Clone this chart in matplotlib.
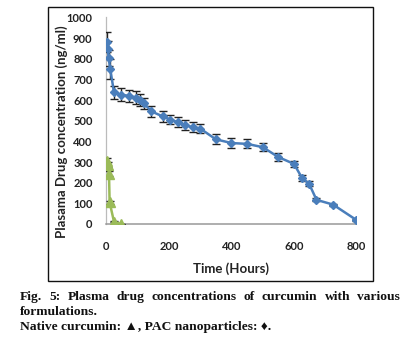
import matplotlib
matplotlib.use("Agg")
import matplotlib.pyplot as plt
from matplotlib.patches import Rectangle

# PAC nanoparticles (diamonds)
pac_time = [2, 4, 7, 12, 24, 48, 72, 96, 108, 120, 144, 180, 204, 228, 252, 276, 300,
            350, 400, 450, 500, 550, 600, 626, 648, 672, 725, 800]
pac_conc = [882, 848, 804, 751, 637, 626, 620, 612, 600, 584, 545, 521, 506, 493, 478, 469, 462,
            410, 392, 388, 372, 324, 291, 222, 196, 117, 94, 19]
pac_err = [50, 40, 40, 48, 32, 32, 30, 30, 30, 28, 26, 25, 24, 24, 24, 24, 22,
           24, 24, 22, 20, 20, 16, 16, 12, 8, 5, 3]

# Native curcumin (triangles)
nat_time = [2, 5, 8, 10, 24, 46]
nat_conc = [306, 286, 243, 105, 11, 0]
nat_err = [15, 12, 12, 8, 3, 2]

x_ticks = [0, 200, 400, 600, 800]
y_ticks = list(range(0, 1001, 100))

W, H = 410, 339
fig = plt.figure(figsize=(W / 100, H / 100), dpi=100)

ax = fig.add_axes([106.5 / W, 1 - 224 / H, 250 / W, 206.5 / H])

blue = "#4A7EBB"
green = "#9BBB59"

ax.errorbar(pac_time, pac_conc, yerr=pac_err, color=blue, lw=1.8, marker="D", ms=4.5,
            ecolor="#222222", elinewidth=1.0, capsize=3, capthick=1.0, zorder=3)
ax.errorbar(nat_time, nat_conc, yerr=nat_err, color=green, lw=1.8, marker="^", ms=6.5,
            ecolor="#222222", elinewidth=1.0, capsize=3, capthick=1.0, zorder=3)

ax.set_xlim(0, 800)
ax.set_ylim(0, 1000)
ax.set_xticks(x_ticks)
ax.set_yticks(y_ticks)
ax.tick_params(length=0, labelsize=8, pad=10)
for lab in ax.get_xticklabels() + ax.get_yticklabels():
    lab.set_fontweight("bold")
    lab.set_family("Lato")
    lab.set_color("#222222")
ax.tick_params(axis="x", pad=12)

for s in ["top", "right"]:
    ax.spines[s].set_visible(False)
ax.spines["left"].set_color("#BBBBBB")
ax.spines["bottom"].set_color("#999999")
ax.spines["left"].set_linewidth(0.9)
ax.spines["bottom"].set_linewidth(1.1)

fig.text(62 / W, 1 - 132 / H, "Plasama Drug concentration (ng/ml)", rotation=90,
         ha="center", va="center", fontsize=9.5, fontweight="bold", family="Lato",
         color="#222222")
fig.text(231 / W, 1 - 269 / H, "Time (Hours)", ha="center", va="center",
         fontsize=9.5, fontweight="bold", family="Lato", color="#222222")

# frame around the chart
fig.patches.append(Rectangle((47.7 / W, 1 - 281 / H), (373 - 47.7) / W, (281 - 7) / H,
                             transform=fig.transFigure, fill=False, ec="#111111", lw=1.0))

# caption, first line justified across the width
cap_font = dict(fontsize=9.7, fontweight="bold", color="#111111")
serif = ["Liberation Serif", "DejaVu Serif"]
words = "Fig. 5: Plasma drug concentrations of curcumin with various".split()
fig.canvas.draw()
renderer = fig.canvas.get_renderer()
widths = []
for w in words:
    t = fig.text(0, 0, w, family=serif, **cap_font)
    widths.append(t.get_window_extent(renderer).width)
    t.remove()
x0, x1 = 20.0, 400.0
gap = (x1 - x0 - sum(widths)) / (len(words) - 1)
x = x0
for w, wd in zip(words, widths):
    fig.text(x / W, 1 - 297 / H, w, ha="left", va="center", family=serif, **cap_font)
    x += wd + gap

fig.text(x0 / W, 1 - 312 / H, "formulations.", ha="left", va="center", family=serif, **cap_font)
fig.text(x0 / W, 1 - 327 / H, "Native curcumin: \u25B2, PAC nanoparticles: \u2666.",
         ha="left", va="center", family=["Liberation Serif", "DejaVu Sans"], **cap_font)

fig.savefig("out.png", dpi=100)
